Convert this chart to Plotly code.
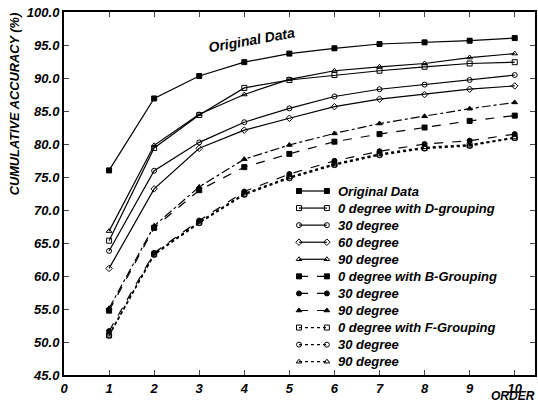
import plotly.graph_objects as go

order = [1, 2, 3, 4, 5, 6, 7, 8, 9, 10]

original = [76.0, 86.9, 90.3, 92.4, 93.7, 94.5, 95.15, 95.4, 95.65, 96.05]
d_0 = [65.35, 79.4, 84.4, 88.5, 89.7, 90.45, 91.1, 91.7, 92.2, 92.4]
d_30 = [63.8, 75.95, 80.25, 83.3, 85.4, 87.2, 88.3, 89.0, 89.7, 90.45]
d_60 = [61.15, 73.2, 79.35, 82.1, 83.9, 85.65, 86.8, 87.5, 88.3, 88.8]
d_90 = [66.8, 79.8, 84.5, 87.5, 89.8, 91.1, 91.7, 92.2, 93.1, 93.7]
b_0 = [54.75, 67.3, 73.0, 76.5, 78.5, 80.35, 81.5, 82.5, 83.5, 84.3]
b_30 = [51.65, 63.5, 68.4, 72.8, 75.45, 77.45, 78.9, 80.0, 80.5, 81.5]
b_90 = [55.1, 67.6, 73.5, 77.7, 79.85, 81.6, 83.1, 84.2, 85.35, 86.3]
f_0 = [51.0, 63.3, 68.1, 72.4, 74.9, 76.9, 78.4, 79.4, 79.8, 80.95]
f_30 = [50.95, 63.2, 68.0, 72.3, 74.8, 76.8, 78.3, 79.3, 79.7, 80.9]
f_90 = [51.1, 63.4, 68.2, 72.5, 75.0, 77.0, 78.5, 79.5, 79.9, 81.0]

y_ticks = [45, 50, 55, 60, 65, 70, 75, 80, 85, 90, 95, 100]
x_ticks = [0, 1, 2, 3, 4, 5, 6, 7, 8, 9, 10]

series = [
    ("Original Data", original, "square", "solid"),
    ("0 degree with D-grouping", d_0, "square-open", "solid"),
    ("30 degree", d_30, "circle-open", "solid"),
    ("60 degree", d_60, "diamond-open", "solid"),
    ("90 degree", d_90, "triangle-up-open", "solid"),
    ("0 degree with B-Grouping", b_0, "square", "dash"),
    ("30 degree", b_30, "circle", "dash"),
    ("90 degree", b_90, "triangle-up", "dashdot"),
    ("0 degree with F-Grouping", f_0, "square-open", "dot"),
    ("30 degree", f_30, "circle-open", "dot"),
    ("90 degree", f_90, "triangle-up-open", "dot"),
]

FAM = "Liberation Sans, Arial, sans-serif"


def bi(size):
    return dict(family=FAM, size=size, color="black", weight="bold", style="italic")


def it(s):
    return "<i>" + s + "</i>"


fig = go.Figure()
for name, vals, sym, dash in series:
    fig.add_trace(go.Scatter(
        x=order, y=vals, mode="lines+markers", name=name, showlegend=False,
        line=dict(color="black", width=1.2, dash=dash),
        marker=dict(symbol=sym, size=5, color="black",
                    line=dict(color="black", width=1)),
    ))

# Hand-drawn legend on an overlay axis measured in page pixels
annotations = []
leg_x0, leg_x1, leg_tx, leg_y0, leg_dy = 300, 328, 337, 191, 17.07
for i, (name, vals, sym, dash) in enumerate(series):
    yy = leg_y0 + leg_dy * i
    fig.add_trace(go.Scatter(
        x=[leg_x0, leg_x1], y=[yy, yy], xaxis="x2", yaxis="y2",
        mode="lines+markers", showlegend=False, hoverinfo="skip",
        line=dict(color="black", width=1.2, dash="dash" if dash == "dashdot" else dash),
        marker=dict(symbol=sym, size=5, color="black",
                    line=dict(color="black", width=1)),
    ))
    annotations.append(dict(text=it(name), xref="x2", yref="y2", x=leg_tx, y=yy,
                            xanchor="left", yanchor="middle", showarrow=False,
                            font=bi(13)))

annotations += [
    dict(text=it("CUMULATIVE ACCURACY (%)"), xref="paper", yref="paper",
         x=-0.106, y=0.746, xanchor="center", yanchor="middle",
         textangle=-90, showarrow=False, font=bi(12.8)),
    dict(text=it("ORDER"), xref="paper", yref="paper", x=1.004, y=-0.0826,
         xanchor="right", yanchor="bottom", showarrow=False, font=bi(12)),
    dict(text=it("Original Data"), xref="x", yref="y", x=4.15, y=95.75,
         textangle=-10, showarrow=False, font=bi(14)),
]

fig.update_layout(
    width=538, height=406,
    margin=dict(l=64, r=1, t=12, b=31),
    paper_bgcolor="white", plot_bgcolor="white",
    font=bi(13),
    showlegend=False,
    xaxis=dict(range=[0, 10.45], tickvals=x_ticks,
               ticktext=[it(str(v)) for v in x_ticks],
               ticks="inside", ticklen=5,
               showline=True, linecolor="black", linewidth=2, mirror="ticks",
               showgrid=False, zeroline=False, tickfont=bi(13)),
    yaxis=dict(range=[45, 100], tickvals=y_ticks,
               ticktext=[it(f"{v:.1f}") for v in y_ticks],
               ticks="inside", ticklen=5,
               showline=True, linecolor="black", linewidth=2, mirror="ticks",
               showgrid=False, zeroline=False, tickfont=bi(13)),
    xaxis2=dict(overlaying="x", range=[64, 537], visible=False),
    yaxis2=dict(overlaying="y", range=[375, 12], visible=False),
    annotations=annotations,
)

fig.write_html("out.html")
